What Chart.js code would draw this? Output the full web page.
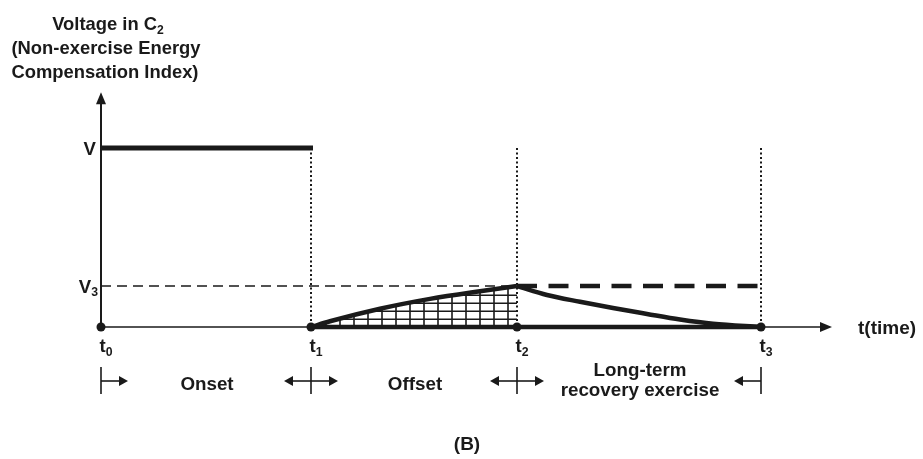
<!DOCTYPE html>
<html><head><meta charset="utf-8">
<script src="https://cdn.jsdelivr.net/npm/chart.js@4.4.1/dist/chart.umd.min.js"></script>
<style>html,body{margin:0;padding:0;background:#fff;overflow:hidden}#wrap{width:923px;height:459px;position:relative}</style>
</head><body><div id="wrap"><canvas id="c"></canvas></div>
<script>
// ---- data ----
const timeMarks = [0, 2.10, 4.16, 6.60];
const timeBase = ['t', 't', 't', 't'];
const timeSubs = ['0', '1', '2', '3'];
const levelV = 1.0;
const levelV3 = 0.229;
const riseX = [2.10, 2.29, 2.79, 3.29, 3.79, 4.16];
const riseY = [0, 0.032, 0.102, 0.157, 0.200, 0.229];
const decayX = [4.16, 4.46, 4.79, 5.12, 5.46, 5.79, 6.12, 6.60];
const decayY = [0.229, 0.179, 0.141, 0.106, 0.073, 0.042, 0.018, 0];
const phaseLabels = [['Onset'], ['Offset'], ['Long-term', 'recovery exercise']];
const yTitleLines = ['Voltage in C', '(Non-exercise Energy', 'Compensation Index)'];
const yTitleSub = '2';
const xTitle = 't(time)';
const panelLabel = '(B)';
const xMax = 7.31, yMax = 1.32;

const INK = '#1a1a1a';
const FONT = '"Liberation Sans", Arial, sans-serif';

function pts(xs, ys) { return xs.map((x, i) => ({ x: x, y: ys[i] })); }

// hatch pattern
const pc = document.createElement('canvas');
pc.width = 14; pc.height = 8;
const pctx = pc.getContext('2d');
pctx.fillStyle = INK;
pctx.fillRect(3.2, 0, 1.6, 8);
pctx.fillRect(0, 6.5, 14, 1.5);
const hatch = document.getElementById('c').getContext('2d').createPattern(pc, 'repeat');

function line(data, w, extra) {
  return Object.assign({ data: data, showLine: true, borderColor: INK, backgroundColor: INK,
    borderWidth: w, pointRadius: 0, fill: false, clip: false }, extra || {});
}

const datasets = [
  { data: timeMarks.map(t => ({ x: t, y: 0 })), showLine: false, pointRadius: 4.5,
    pointBackgroundColor: INK, pointBorderWidth: 0, clip: false },
  line([{ x: timeMarks[0], y: levelV }, { x: timeMarks[1] + 0.02, y: levelV }], 5),
  line(pts(riseX, riseY), 4.5, { fill: 'origin', backgroundColor: hatch, cubicInterpolationMode: 'monotone' }),
  line(pts(decayX, decayY), 4.5, { cubicInterpolationMode: 'monotone' }),
  line([{ x: timeMarks[1], y: 0 }, { x: timeMarks[3], y: 0 }], 4.5),
  line([{ x: timeMarks[2], y: levelV3 }, { x: timeMarks[3], y: levelV3 }], 4.5, { borderDash: [20, 11.5] }),
  line([{ x: timeMarks[0], y: levelV3 }, { x: timeMarks[2], y: levelV3 }], 1.5, { borderDash: [10, 6] }),
  line([{ x: timeMarks[1], y: levelV }, { x: timeMarks[1], y: 0 }], 2, { borderDash: [2, 2.5] }),
  line([{ x: timeMarks[2], y: levelV }, { x: timeMarks[2], y: 0 }], 2, { borderDash: [2, 2.5] }),
  line([{ x: timeMarks[3], y: levelV }, { x: timeMarks[3], y: 0 }], 2, { borderDash: [2, 2.5] })
];

function font(size) { return 'bold ' + size + 'px ' + FONT; }
function subText(ctx, base, sub, x, y, size, align) {
  const ss = size * 0.66;
  ctx.font = font(size); const wb = ctx.measureText(base).width;
  ctx.font = font(ss); const ws = ctx.measureText(sub).width;
  const w = wb + ws;
  let x0 = align === 'center' ? x - w / 2 : (align === 'right' ? x - w : x);
  ctx.textAlign = 'left';
  ctx.font = font(size); ctx.fillText(base, x0, y);
  ctx.font = font(ss); ctx.fillText(sub, x0 + wb, y + size * 0.2);
}
function tri(ctx, ax, ay, bx, by, cx, cy) {
  ctx.beginPath(); ctx.moveTo(ax, ay); ctx.lineTo(bx, by); ctx.lineTo(cx, cy); ctx.closePath(); ctx.fill();
}

const decor = {
  id: 'decor',
  beforeDatasetsDraw(chart) {
    const ctx = chart.ctx, xs = chart.scales.x, ys = chart.scales.y;
    const x0 = xs.getPixelForValue(0), y0 = ys.getPixelForValue(0);
    const xEnd = xs.getPixelForValue(xMax), yTop = ys.getPixelForValue(1.312);
    ctx.save();
    ctx.strokeStyle = INK; ctx.fillStyle = INK; ctx.lineWidth = 2;
    ctx.beginPath(); ctx.moveTo(x0, y0); ctx.lineTo(x0, yTop + 10); ctx.stroke();
    tri(ctx, x0, yTop, x0 - 5, yTop + 12, x0 + 5, yTop + 12);
    ctx.lineWidth = 1.6;
    ctx.beginPath(); ctx.moveTo(x0, y0); ctx.lineTo(xEnd - 10, y0); ctx.stroke();
    tri(ctx, xEnd, y0, xEnd - 12, y0 - 5, xEnd - 12, y0 + 5);
    ctx.restore();
  },
  afterDraw(chart) {
    const ctx = chart.ctx, xs = chart.scales.x, ys = chart.scales.y;
    ctx.save();
    ctx.fillStyle = INK; ctx.strokeStyle = INK; ctx.textBaseline = 'alphabetic';
    // y title
    subText(ctx, yTitleLines[0], yTitleSub, 108, 30, 18.4, 'center');
    ctx.font = font(18.4); ctx.textAlign = 'center';
    ctx.fillText(yTitleLines[1], 106, 54);
    ctx.fillText(yTitleLines[2], 105, 78);
    // level labels
    ctx.font = font(18.6); ctx.textAlign = 'right';
    ctx.fillText('V', 96, ys.getPixelForValue(levelV) + 6.5);
    subText(ctx, 'V', '3', 98, ys.getPixelForValue(levelV3) + 6.5, 18.6, 'right');
    // x title
    ctx.font = font(19); ctx.textAlign = 'left';
    ctx.fillText(xTitle, 858, 334);
    // time labels
    timeMarks.forEach((t, i) => {
      subText(ctx, timeBase[i], timeSubs[i], xs.getPixelForValue(t) + 5, 352, 18.6, 'center');
    });
    // phase arrows
    const ay = 381, L = 27, hl = 9, hw = 5;
    ctx.lineWidth = 1.6;
    timeMarks.forEach((t, i) => {
      const px = xs.getPixelForValue(t);
      ctx.beginPath(); ctx.moveTo(px, ay - 14); ctx.lineTo(px, ay + 13); ctx.stroke();
      if (i < timeMarks.length - 1) {
        ctx.beginPath(); ctx.moveTo(px, ay); ctx.lineTo(px + L - hl, ay); ctx.stroke();
        tri(ctx, px + L, ay, px + L - hl, ay - hw, px + L - hl, ay + hw);
      }
      if (i > 0) {
        ctx.beginPath(); ctx.moveTo(px, ay); ctx.lineTo(px - L + hl, ay); ctx.stroke();
        tri(ctx, px - L, ay, px - L + hl, ay - hw, px - L + hl, ay + hw);
      }
    });
    // phase labels
    ctx.font = font(18.8); ctx.textAlign = 'center';
    phaseLabels.forEach((lines, i) => {
      const cx = (xs.getPixelForValue(timeMarks[i]) + xs.getPixelForValue(timeMarks[i + 1])) / 2 + 1;
      if (lines.length === 1) ctx.fillText(lines[0], cx, 390);
      else { ctx.fillText(lines[0], cx, 376); ctx.fillText(lines[1], cx, 396); }
    });
    // panel label
    ctx.font = font(19); ctx.textAlign = 'center';
    ctx.fillText(panelLabel, 467, 450);
    ctx.restore();
  }
};

new Chart(document.getElementById('c'), {
  type: 'scatter',
  data: { datasets: datasets },
  options: {
    responsive: true, maintainAspectRatio: false, animation: false, devicePixelRatio: 1,
    layout: { padding: { left: 101, right: 91, top: 327 - yMax * 179, bottom: 132 } },
    plugins: { legend: { display: false }, tooltip: { enabled: false }, title: { display: false } },
    scales: {
      x: { type: 'linear', display: false, min: 0, max: xMax },
      y: { type: 'linear', display: false, min: 0, max: yMax }
    }
  },
  plugins: [decor]
});
</script></body></html>
